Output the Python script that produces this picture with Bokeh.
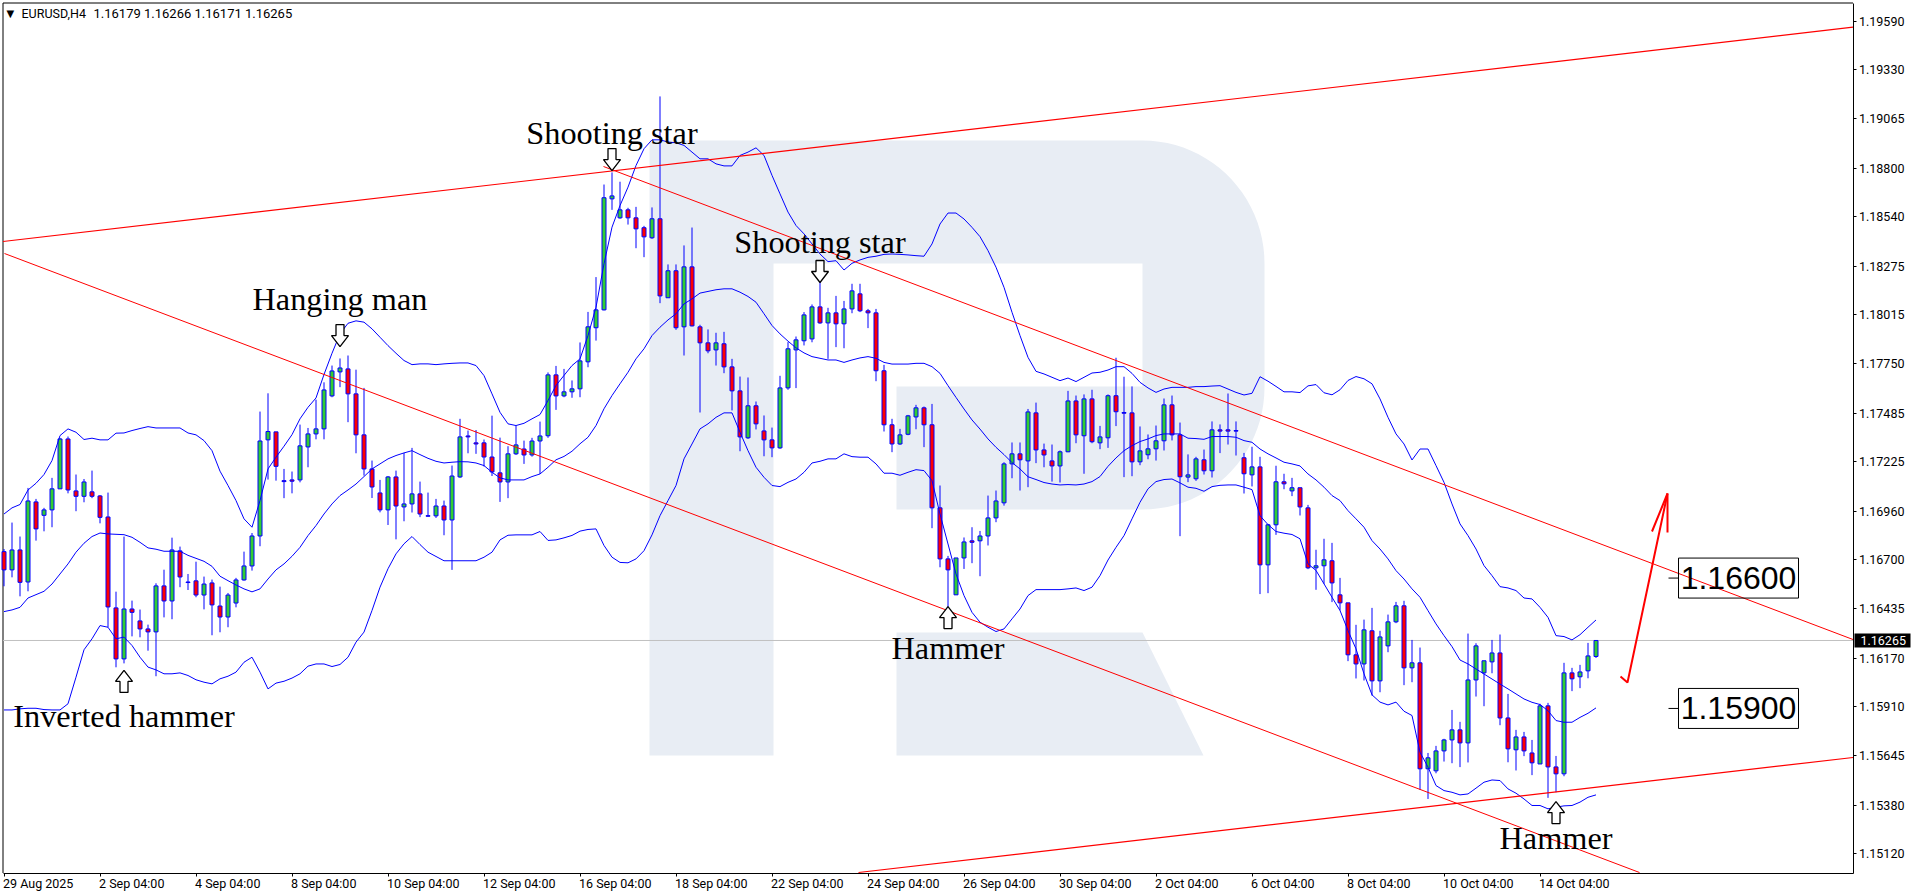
import numpy as np
from bokeh.plotting import figure
from bokeh.embed import file_html
from bokeh.resources import INLINE
from bokeh.models import Range1d, FixedTicker, Label
from bokeh.core.properties import value

open_pts = [
116742,116644,116751,116579,117009,116937,116966,117079,117347,117068,
117039,117063,117041,116928,116440,116166,116434,116370,116327,116311,
116558,116477,116746,116579,116585,116509,116574,116450,116391,116466,
116590,116665,116826,117342,117385,117123,117127,117127,117304,117374,
117401,117578,117707,117723,117589,117369,117186,117057,116966,117143,
116982,116998,117052,116935,116934,116987,116912,117143,117363,117326,
117326,117250,117165,117116,117267,117293,117261,117336,117364,117691,
117578,117600,117616,117761,117944,118040,118636,118534,118577,118534,
118481,118427,118529,118105,118250,117949,118271,117949,117863,117825,
117858,117734,117605,117353,117525,117390,117342,117299,117621,117825,
117874,117884,118056,117970,118024,117965,118045,118126,118035,118024,
117713,117423,117320,117372,117465,117514,117423,116977,116703,116510,
116708,116800,116800,116826,116923,117004,117213,117267,117229,117487,
117288,117229,117202,117278,117551,117364,117562,117326,117353,117579,
117489,117487,117224,117262,117294,117337,117530,117369,117142,117133,
117235,117176,117396,117396,117392,117246,117154,117197,116671,116886,
117117,117068,117085,116977,116655,116666,116693,116510,116467,116188,
116139,116317,116048,116236,116365,116451,116118,116145,115576,115565,
115672,115731,115785,115715,116053,116091,116150,116198,115849,115678,
115747,115661,115602,115914,115586,115549,116091,116070,116102,116179]
high_pts = [
116756,116898,116823,117084,117025,116977,117138,117353,117360,117156,
117132,117177,117046,117059,116527,116823,116479,116431,116350,116572,
116645,116817,116769,116622,116688,116608,116592,116554,116520,116601,
116742,116842,117494,117592,117385,117186,117172,117424,117406,117558,
117651,117741,117779,117795,117719,117621,117231,117127,117148,117177,
117272,117299,117118,117059,117025,117016,117204,117455,117392,117395,
117344,117472,117354,117308,117417,117338,117353,117440,117704,117739,
117723,117661,117865,118029,118216,118713,118778,118728,118588,118593,
118491,118590,119186,118284,118284,118386,118482,117960,117935,117917,
117922,117777,117682,117677,117548,117473,117408,117686,117867,117897,
118028,118069,118194,118051,118115,118088,118180,118180,118045,118045,
117745,117455,117401,117476,117530,117521,117535,117097,116719,116708,
116818,116873,116853,117043,117070,117222,117328,117328,117508,117542,
117322,117317,117285,117605,117580,117586,117611,117417,117586,117783,
117681,117629,117414,117371,117419,117564,117580,117435,117264,117251,
117290,117441,117425,117591,117441,117272,117305,117251,116891,117203,
117160,117138,117085,116993,116752,116811,116789,116601,116467,116349,
116377,116440,116317,116404,116472,116478,116268,116227,115661,115699,
115737,115892,115828,116302,116250,116156,116268,116297,115978,115785,
115774,115731,115925,115930,115645,116145,116118,116134,116252,116266]
low_pts = [
116556,116604,116502,116529,116801,116851,116873,117079,117055,116959,
117007,117029,116894,116336,116121,116142,116287,116282,116210,116073,
116389,116379,116551,116536,116497,116432,116293,116309,116336,116443,
116586,116640,116771,117129,117123,117029,117055,117114,117195,117345,
117345,117571,117625,117437,117270,117150,117030,116953,116885,116808,
116905,116952,116927,116930,116923,116830,116644,117138,117270,117267,
117199,117148,117009,117029,117261,117213,117252,117159,117353,117503,
117571,117568,117571,117732,117875,118037,118577,118529,118498,118371,
118323,118421,118076,118105,117933,117795,117951,117489,117807,117741,
117700,117500,117281,117347,117398,117254,117249,117294,117611,117620,
117849,117866,117965,117777,117840,117834,118022,118028,117942,117657,
117387,117276,117315,117367,117399,117303,116868,116658,116443,116510,
116649,116680,116610,116775,116900,116989,117136,117070,117088,117217,
117195,117118,117113,117276,117324,117160,117324,117292,117299,117416,
117142,117147,117206,117238,117231,117285,117339,116825,117115,117122,
117156,117140,117271,117317,117258,117054,117092,116514,116519,116832,
117077,117040,116936,116648,116537,116569,116471,116426,116154,116061,
116050,115969,115987,116202,116358,116025,116041,115463,115414,115552,
115615,115606,115585,115610,115964,115912,116089,115810,115611,115567,
115644,115542,115602,115420,115450,115536,115993,116009,116062,116171]
close_pts = [
116644,116751,116577,117014,116864,116966,117079,117347,117073,117039,
117116,117039,116926,116445,116166,116434,116416,116327,116311,116558,
116477,116751,116606,116576,116509,116568,116456,116391,116509,116590,
116665,116826,117336,117387,117200,117118,117120,117310,117374,117401,
117610,117712,117728,117589,117369,117186,117089,116966,117143,116987,
116998,117052,116944,116932,116987,116912,117148,117358,117358,117320,
117250,117170,117116,117267,117315,117261,117336,117363,117691,117578,
117600,117616,117766,117949,118040,118642,118652,118577,118534,118475,
118432,118529,118115,118250,117944,118271,117954,117863,117820,117863,
117734,117605,117358,117525,117428,117342,117299,117621,117831,117879,
118013,118056,117970,118024,117965,118045,118142,118035,118024,117713,
117423,117320,117369,117471,117514,117423,116977,116703,116644,116708,
116794,116792,116826,116923,117014,117213,117267,117235,117492,117288,
117261,117202,117278,117551,117369,117562,117332,117358,117579,117493,
117485,117224,117283,117294,117337,117530,117369,117144,117154,117240,
117176,117396,117389,117389,117389,117160,117197,116671,116886,117117,
117106,117085,116982,116655,116666,116698,116574,116467,116188,116139,
116322,116048,116284,116365,116451,116118,116145,115576,115635,115672,
115731,115785,115715,116053,116236,116156,116198,115849,115683,115747,
115672,115608,115914,115586,115549,116091,116059,116096,116182,116265]
upper_pts = [
116944,116977,116995,117073,117109,117156,117231,117365,117401,117383,
117344,117351,117342,117342,117378,117379,117392,117403,117413,117406,
117406,117406,117406,117379,117369,117338,117284,117174,117097,117016,
116918,116873,117016,117186,117249,117308,117370,117455,117517,117567,
117693,117807,117911,117968,117981,117974,117938,117893,117848,117807,
117768,117746,117750,117750,117746,117750,117753,117755,117755,117741,
117687,117589,117490,117428,117419,117431,117455,117478,117553,117634,
117688,117741,117777,117902,118054,118287,118484,118600,118699,118815,
118905,118953,118953,118941,118937,118923,118887,118851,118851,118824,
118813,118813,118869,118887,118910,118869,118762,118663,118565,118493,
118448,118394,118340,118299,118304,118254,118290,118308,118322,118328,
118338,118340,118338,118335,118331,118328,118394,118501,118560,118560,
118528,118483,118433,118358,118269,118161,118027,117902,117785,117710,
117696,117678,117660,117674,117655,117678,117701,117705,117717,117735,
117735,117699,117651,117621,117597,117615,117624,117624,117624,117628,
117628,117631,117633,117615,117597,117583,117592,117681,117657,117629,
117600,117600,117596,117632,117639,117595,117584,117611,117661,117682,
117670,117643,117562,117463,117374,117320,117234,117293,117293,117204,
117114,116998,116891,116828,116756,116667,116613,116554,116547,116533,
116493,116488,116443,116389,116291,116286,116268,116296,116336,116375]
middle_pts = [
116420,116429,116443,116493,116511,116529,116568,116622,116676,116739,
116787,116823,116842,116837,116835,116833,116819,116792,116762,116755,
116744,116744,116744,116722,116706,116690,116663,116610,116586,116563,
116542,116526,116542,116595,116644,116676,116717,116765,116828,116882,
116944,116998,117043,117073,117105,117145,117186,117213,117240,117258,
117272,117284,117263,117243,117227,117218,117222,117225,117224,117218,
117204,117168,117138,117127,117127,117127,117145,117159,117195,117235,
117253,117281,117321,117356,117419,117509,117580,117643,117705,117777,
117831,117902,117947,117986,118019,118072,118099,118130,118139,118148,
118153,118153,118135,118112,118081,118019,117956,117911,117872,117836,
117809,117789,117780,117771,117771,117758,117771,117782,117789,117780,
117758,117749,117749,117749,117753,117753,117735,117699,117633,117570,
117508,117449,117400,117347,117302,117263,117220,117186,117144,117129,
117113,117105,117100,117102,117100,117105,117118,117145,117200,117245,
117284,117311,117333,117347,117365,117374,117374,117374,117351,117349,
117345,117360,117360,117360,117356,117338,117329,117293,117267,117245,
117222,117213,117202,117159,117127,117088,117043,117016,116962,116918,
116873,116801,116756,116703,116640,116595,116542,116497,116425,116354,
116291,116232,116160,116139,116112,116085,116058,116031,116005,115978,
115951,115933,115921,115888,115835,115826,115826,115852,115874,115903]
lower_pts = [
115892,115892,115898,115901,115901,115894,115892,115892,115925,116068,
116215,116274,116345,116336,116274,116283,116238,116175,116122,116107,
116086,116086,116091,116077,116054,116041,116032,116059,116073,116095,
116148,116175,116095,116005,116036,116046,116063,116086,116127,116139,
116139,116125,116136,116175,116256,116310,116426,116551,116650,116730,
116784,116823,116780,116739,116716,116693,116693,116693,116693,116693,
116712,116739,116805,116830,116832,116832,116832,116850,116802,116805,
116816,116829,116852,116861,116864,116775,116712,116684,116682,116703,
116747,116832,116935,117016,117097,117240,117320,117401,117428,117463,
117487,117487,117383,117284,117195,117141,117097,117091,117114,117132,
117168,117218,117227,117240,117240,117267,117252,117249,117249,117213,
117163,117163,117152,117168,117182,117177,117123,116944,116783,116622,
116506,116416,116363,116336,116313,116327,116381,116434,116506,116538,
116538,116538,116538,116542,116547,116533,116551,116613,116697,116765,
116828,116918,117007,117079,117118,117129,117132,117111,117088,117082,
117066,117091,117098,117100,117100,117088,117075,116935,116887,116850,
116841,116834,116811,116676,116641,116569,116497,116426,116318,116220,
116086,115973,115934,115919,115934,115885,115862,115665,115585,115486,
115459,115450,115436,115441,115472,115504,115516,115513,115468,115445,
115414,115379,115379,115361,115370,115377,115379,115397,115423,115436]

y_ticks = [1.19590,1.19330,1.19065,1.18800,1.18540,1.18275,1.18015,1.17750,1.17485,
           1.17225,1.16960,1.16700,1.16435,1.16170,1.15910,1.15645,1.15380,1.15120]
x_ticks = [0,12,24,36,48,60,72,84,96,108,120,132,144,156,168,180,192]
x_labels = ["29 Aug 2025","2 Sep 04:00","4 Sep 04:00","8 Sep 04:00","10 Sep 04:00","12 Sep 04:00",
            "16 Sep 04:00","18 Sep 04:00","22 Sep 04:00","24 Sep 04:00","26 Sep 04:00","30 Sep 04:00",
            "2 Oct 04:00","6 Oct 04:00","8 Oct 04:00","10 Oct 04:00","14 Oct 04:00"]
last_price = 1.16265
levels = [1.16600, 1.15900]
level_labels = ["1.16600", "1.15900"]
note_texts = ["Inverted hammer","Hanging man","Shooting star","Shooting star","Hammer","Hammer"]
note_bars = [15, 42, 76, 102, 118, 194]
note_prices = [1.15862, 1.18101, 1.18992, 1.18402, 1.16227, 1.15207]
arrow_bars = [15, 42, 76, 102, 118, 194]
arrow_tips = [1.16104, 1.17843, 1.18788, 1.18187, 1.16447, 1.15400]
arrow_dirs = [1, -1, -1, -1, 1, 1]

WIDTH, HEIGHT = 1916, 896
L, T, R, B = 2.5, 2.5, 1852.5, 872.5   # chart box inside the page
XPP = 1 / 8.0                    # bars per pixel
YPP = 0.00001 * 5.369            # price per pixel
def X(px): return (px - 3.5) * XPP
def Y(py): return 1.19701 - py * YPP

o, h, l, c = [np.array(a) / 1e5 for a in (open_pts, high_pts, low_pts, close_pts)]
idx = np.arange(len(o))
up = c >= o

p = figure(width=WIDTH, height=HEIGHT, output_backend="svg", toolbar_location=None,
           x_range=Range1d(X(0), X(WIDTH)), y_range=Range1d(Y(HEIGHT), Y(0)),
           y_axis_location="right", min_border_left=0, min_border_top=0,
           min_border_right=0, min_border_bottom=0,
           background_fill_color="white", border_fill_color="white",
           outline_line_color=None)
p.xgrid.visible = False
p.ygrid.visible = False

for ax in (p.xaxis[0], p.yaxis[0]):
    ax.axis_line_color = "black"
    ax.axis_line_width = 1
    ax.major_tick_line_color = "black"
    ax.major_tick_in = 0
    ax.major_tick_out = 3
    ax.minor_tick_line_color = None
    ax.major_label_text_font = "Roboto"
    ax.major_label_text_font_size = "12.5px"
    ax.major_label_text_color = "black"
    ax.major_label_standoff = 3
p.xaxis[0].ticker = FixedTicker(ticks=x_ticks)
p.xaxis[0].major_label_overrides = {t: " " for t in x_ticks}
p.xaxis[0].fixed_location = Y(B)
p.xaxis[0].bounds = (X(L), X(R))
p.yaxis[0].ticker = FixedTicker(ticks=y_ticks)
p.yaxis[0].major_label_overrides = {t: f"{t:.5f}" for t in y_ticks}
p.yaxis[0].fixed_location = X(R)
p.yaxis[0].bounds = (Y(B), Y(T))

# left and top edges of the chart box
p.line([X(L), X(L), X(R)], [Y(B), Y(T), Y(T)], line_color="black", line_width=1)

# x tick labels start at their tick, as in the reference
for t, s in zip(x_ticks, x_labels):
    p.add_layout(Label(x=t, y=Y(883), text=s, x_offset=-1, text_font="Roboto", text_font_size="12.5px",
                       text_color="black", text_align="left", text_baseline="middle"))

# watermark
a = np.linspace(0, np.pi / 2, 24)
b = np.linspace(-np.pi / 2, 0, 24)
wx = [649, 649, 773, 773, 1142, 1142, 896, 896]
wy = [140, 755, 755, 263, 263, 386, 386, 509]
wx += list(1142 + 122 * np.cos(b)) + list(1142 + 122 * np.cos(a))
wy += list(387 - 122 * np.sin(b)) + list(263 - 123 * np.sin(a))
wm = "#e8edf4"
p.patch(X(np.array(wx)), Y(np.array(wy)), fill_color=wm, line_color=None)
lx, ly = np.array([896, 1142, 1203, 896]), np.array([632, 632, 755, 755])
p.patch(X(lx), Y(ly), fill_color=wm, line_color=None)

# current price line
p.line([X(L), X(R)], [last_price, last_price], line_color="#c0c0c0", line_width=1)

# candles
p.segment(idx, h, idx, l, line_color="#0000ff", line_width=1)
body_hw = 2 * XPP
p.quad(left=idx[up] - body_hw, right=idx[up] + body_hw, top=c[up], bottom=o[up],
       fill_color="#32cd32", line_color="#0000ff", line_width=1)
p.quad(left=idx[~up] - body_hw, right=idx[~up] + body_hw, top=o[~up], bottom=c[~up],
       fill_color="#ff0000", line_color="#0000ff", line_width=1)

# bands
for pts in (upper_pts, middle_pts, lower_pts):
    p.line(idx, np.array(pts) / 1e5, line_color="#0000ff", line_width=1)

# channels
p.line(X(np.array([L, R])), Y(np.array([241, 26.7])), line_color="#ff0000", line_width=1.2)
p.line(X(np.array([4, 1639])), Y(np.array([253, 872])), line_color="#ff0000", line_width=1)
p.line(X(np.array([603, R])), Y(np.array([166, 639])), line_color="#ff0000", line_width=1)
p.line(X(np.array([858, R])), Y(np.array([872, 757])), line_color="#ff0000", line_width=1.2)

# forecast arrow
p.line(X(np.array([1620, 1627, 1667])), Y(np.array([676, 682, 493])), line_color="#ff0000", line_width=2)
p.line(X(np.array([1651.5, 1667, 1667])), Y(np.array([531, 493, 532])), line_color="#ff0000", line_width=2)

# hollow pattern arrows
for bar, tip, d in zip(arrow_bars, arrow_tips, arrow_dirs):
    sx = np.array([0, 8.5, 4, 4, -4, -4, -8.5, 0]) * XPP
    sy = np.array([0, 11, 11, 22, 22, 11, 11, 0]) * YPP
    p.patch(bar + sx, tip - d * sy, fill_color="white", line_color="black", line_width=1.3)

# notes
p.text(note_bars, note_prices, text=note_texts, text_font=value("Liberation Serif"),
       text_font_size="32.3px", text_color="black", text_align="center", text_baseline="middle")

# levels
p.segment([X(1668)] * 2, levels, [X(1678)] * 2, levels, line_color="black", line_width=1)
lv = np.array(levels)
p.quad(left=X(1678), right=X(1798), top=lv + 20 * YPP, bottom=lv - 20 * YPP,
       fill_color=None, line_color="black", line_width=1)
for lev, txt in zip(levels, level_labels):
    p.add_layout(Label(x=X(1738), y=lev, text=txt, text_font="Liberation Sans", text_font_size="32px",
                       text_color="black", text_align="center", text_baseline="middle"))

# current price tag
p.quad(left=X(1854), right=X(1910), top=last_price + 7 * YPP, bottom=last_price - 7 * YPP,
       fill_color="black", line_color=None)
p.add_layout(Label(x=X(1860), y=last_price, text=f"{last_price:.5f}", text_font="Roboto",
                   text_font_size="12.5px", text_color="white", text_align="left", text_baseline="middle"))

# header
p.add_layout(Label(x=X(6), y=Y(12.5), text="\u25bc", text_font="DejaVu Sans",
                   text_font_size="10px", text_color="black", text_baseline="middle"))
p.add_layout(Label(x=X(21), y=Y(12.7), text="EURUSD,H4",
                   text_font="Roboto", text_font_size="12.5px", text_color="black", text_baseline="middle"))
p.add_layout(Label(x=X(93), y=Y(12.7), text="1.16179 1.16266 1.16171 1.16265",
                   text_font="Roboto", text_font_size="13px", text_color="black", text_baseline="middle"))

open("out.html", "w").write(file_html(p, INLINE))
